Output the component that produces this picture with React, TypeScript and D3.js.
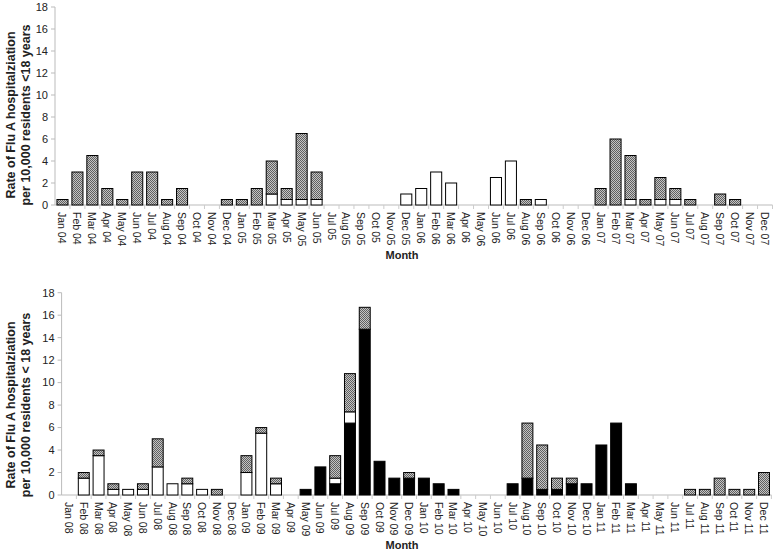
import React from 'react';
import * as d3 from 'd3';

const MONTHS = ['Jan', 'Feb', 'Mar', 'Apr', 'May', 'Jun', 'Jul', 'Aug', 'Sep', 'Oct', 'Nov', 'Dec'];
const YEARS_TOP = ['04', '05', '06', '07'];
const YEARS_BOTTOM = ['08', '09', '10', '11'];
const Y_TICKS = [0, 2, 4, 6, 8, 10, 12, 14, 16, 18];

// 2004-2007 (rate per 10,000)
const topPdm = new Array(48).fill(0);
const topWhite = [
  0, 0, 0, 0, 0, 0, 0, 0, 0, 0, 0, 0,
  0, 0, 1, 0.5, 0.5, 0.5, 0, 0, 0, 0, 0, 1,
  1.5, 3, 2, 0, 0, 2.5, 4, 0, 0.5, 0, 0, 0,
  0, 0, 0.5, 0, 0.5, 0.5, 0, 0, 0, 0, 0, 0,
];
const topGray = [
  0.5, 3, 4.5, 1.5, 0.5, 3, 3, 0.5, 1.5, 0, 0, 0.5,
  0.5, 1.5, 3, 1, 6, 2.5, 0, 0, 0, 0, 0, 0,
  0, 0, 0, 0, 0, 0, 0, 0.5, 0, 0, 0, 0,
  1.5, 6, 4, 0.5, 2, 1, 0.5, 0, 1, 0.5, 0, 0,
];

// 2008-2011
const bottomPdm = [
  0, 0, 0, 0, 0, 0, 0, 0, 0, 0, 0, 0,
  0, 0, 0, 0, 0.5, 2.5, 1, 6.4, 14.75, 3, 1.5, 1.5,
  1.5, 1, 0.5, 0, 0, 0, 1, 1.5, 0.5, 0.5, 1, 1,
  4.45, 6.4, 1, 0, 0, 0, 0, 0, 0, 0, 0, 0,
];
const bottomWhite = [
  0, 1.5, 3.5, 0.5, 0.5, 0.5, 2.5, 1, 1, 0.5, 0, 0,
  2, 5.5, 1, 0, 0, 0, 0.5, 1, 0, 0, 0, 0,
  0, 0, 0, 0, 0, 0, 0, 0, 0, 0, 0, 0,
  0, 0, 0, 0, 0, 0, 0, 0, 0, 0, 0, 0,
];
const bottomGray = [
  0, 0.5, 0.5, 0.5, 0, 0.5, 2.5, 0, 0.5, 0, 0.5, 0,
  1.5, 0.5, 0.5, 0, 0, 0, 2, 3.4, 1.95, 0, 0, 0.5,
  0, 0, 0, 0, 0, 0, 0, 4.9, 3.95, 1, 0.5, 0,
  0, 0, 0, 0, 0, 0, 0.5, 0.5, 1.5, 0.5, 0.5, 2,
];

const KEYS = ['pdm', 'white', 'gray'];
const FILLS: Record<string, string> = { pdm: '#000', white: '#fff', gray: 'url(#hatch)' };
const FONT = 'Arial, "Liberation Sans", sans-serif';

interface PanelProps {
  years: string[];
  pdm: number[];
  white: number[];
  gray: number[];
  x0: number;
  x1: number;
  yBase: number;
  yTop: number;
  label2: string;
  labelCenter: number;
  monthY: number;
}

const Panel: React.FC<PanelProps> = ({ years, pdm, white, gray, x0, x1, yBase, yTop, label2, labelCenter, monthY }) => {
  const labels = years.flatMap(yr => MONTHS.map(m => `${m} ${yr}`));
  const rows = labels.map((l, i) => ({ label: l, pdm: pdm[i], white: white[i], gray: gray[i] }));
  const series = d3.stack<any>().keys(KEYS)(rows);

  const x = d3.scaleBand().domain(labels).range([x0, x1]).paddingInner(0.26).paddingOuter(0.13);
  const y = d3.scaleLinear().domain([0, 18]).range([yBase, yTop]);
  const step = x.step();
  const startX = x0;

  return (
    <g>
      {/* axes */}
      <line x1={startX} x2={startX} y1={yTop} y2={yBase} stroke="#bbb" />
      <line x1={startX} x2={x1} y1={yBase} y2={yBase} stroke="#bbb" />
      {Y_TICKS.map(t => (
        <g key={t}>
          <line x1={startX - 4} x2={startX} y1={y(t)} y2={y(t)} stroke="#bbb" />
          <text x={startX - 7} y={y(t)} dy="0.35em" textAnchor="end" fontSize={11} fill="#222" fontFamily={FONT}>{t}</text>
        </g>
      ))}
      {labels.map((l, i) => (
        <g key={l}>
          <line x1={startX + step * (i + 1)} x2={startX + step * (i + 1)} y1={yBase} y2={yBase + 4} stroke="#ccc" />
          <text
            transform={`translate(${(x(l) as number) + x.bandwidth() / 2 - 4},${yBase + 7}) rotate(90)`}
            fontSize={10.5} fill="#222" fontFamily={FONT}
          >{l}</text>
        </g>
      ))}

      {/* bars */}
      {series.map(s => (
        <g key={s.key} fill={FILLS[s.key]}>
          {s.map((d, i) => d[1] - d[0] > 0 ? (
            <rect key={i}
              x={x(labels[i])}
              y={y(d[1])}
              width={x.bandwidth()}
              height={y(d[0]) - y(d[1])}
              stroke="#000" strokeWidth={1}
            />
          ) : null)}
        </g>
      ))}

      {/* titles */}
      <g transform={`translate(15,${labelCenter}) rotate(-90)`}>
        <text textAnchor="middle" fontSize={12.5} fontWeight="bold" fontFamily={FONT} fill="#222">Rate of Flu A hospitalziation</text>
      </g>
      <g transform={`translate(30,${labelCenter}) rotate(-90)`}>
        <text textAnchor="middle" fontSize={12.5} fontWeight="bold" fontFamily={FONT} fill="#222">{label2}</text>
      </g>
      <text x={402} y={monthY} textAnchor="middle" fontSize={11} fontWeight="bold" fontFamily={FONT} fill="#222">Month</text>
    </g>
  );
};

export default function App() {
  return (
    <div style={{ position: 'absolute', left: 0, top: 0 }}>
      <svg width={776} height={552} style={{ display: 'block', background: '#fff' }}>
        <defs>
          <pattern id="hatch" width={2} height={2} patternUnits="userSpaceOnUse">
            <rect width={2} height={2} fill="#c4c4c4" />
            <rect x={0} y={0} width={1} height={1} fill="#606060" />
            <rect x={1} y={1} width={1} height={1} fill="#606060" />
          </pattern>
        </defs>
        <Panel years={YEARS_TOP} pdm={topPdm} white={topWhite} gray={topGray}
          x0={55} x1={772.5} yBase={205} yTop={7}
          label2="per 10,000 residents <18 years" labelCenter={115} monthY={259} />
        <Panel years={YEARS_BOTTOM} pdm={bottomPdm} white={bottomWhite} gray={bottomGray}
          x0={61.6} x1={771.4} yBase={495} yTop={292.7}
          label2="per 10,000 residents < 18 years" labelCenter={405} monthY={549} />
      </svg>
    </div>
  );
}
